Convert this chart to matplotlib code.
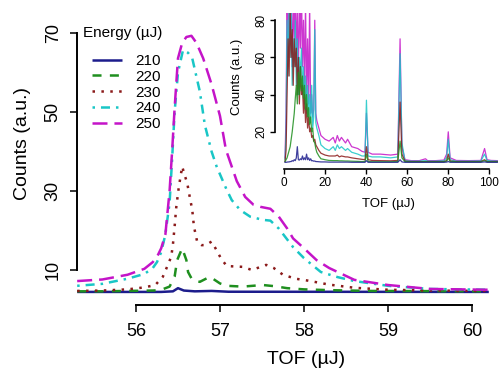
import matplotlib
matplotlib.use("Agg")
import matplotlib.pyplot as plt

plt.rcParams["font.family"] = ["Liberation Sans", "DejaVu Sans"]
plt.rcParams["lines.scale_dashes"] = False

# main panel: zoom on the peak near 56.6
e210_tof = [55.30, 56.30, 56.44, 56.50, 56.57, 56.70, 56.90, 57.10, 60.20]
e210_counts = [4.45, 4.45, 4.6, 5.4, 4.8, 4.6, 4.7, 4.5, 4.45]

e220_tof = [55.30, 55.60, 55.90, 56.20, 56.29, 56.40, 56.46, 56.49, 56.55, 56.60,
            56.62, 56.67, 56.76, 56.88, 57.00, 57.08, 57.27, 57.51, 57.65, 57.80,
            58.00, 58.30, 58.80, 60.20]
e220_counts = [4.6, 4.6, 4.7, 4.8, 4.9, 5.8, 8.3, 12.5, 15.5, 12.5,
               9.5, 7.5, 7.0, 8.3, 6.6, 6.0, 5.8, 6.2, 5.9, 5.4,
               5.1, 4.9, 4.7, 4.6]

e230_tof = [55.30, 55.60, 55.90, 56.10, 56.23, 56.32, 56.38, 56.42, 56.44, 56.46,
            56.48, 56.51, 56.55, 56.58, 56.61, 56.64, 56.67, 56.69, 56.73, 56.78,
            56.83, 56.90, 56.96, 57.01, 57.08, 57.27, 57.38, 57.55, 57.64, 57.75,
            57.90, 58.05, 58.30, 58.60, 59.00, 59.50, 60.20]
e230_counts = [4.7, 4.8, 5.1, 5.6, 6.2, 8.3, 11.3, 13.4, 16.5, 21,
               26, 31, 36.2, 34, 32, 28.5, 25.2, 21, 17, 16.3,
               16.3, 17.2, 15, 13, 11, 10.8, 10, 11.3, 10.5, 8.8,
               7.8, 7.3, 6.3, 5.5, 5.0, 4.8, 4.7]

e240_tof = [55.30, 55.60, 55.90, 56.10, 56.20, 56.25, 56.30, 56.35, 56.40, 56.43,
            56.46, 56.50, 56.56, 56.62, 56.67, 56.76, 56.82, 56.90, 56.96, 57.08,
            57.14, 57.24, 57.36, 57.51, 57.60, 57.70, 57.87, 58.00, 58.20, 58.40,
            58.60, 59.00, 59.50, 60.20]
e240_counts = [6.0, 6.5, 7.8, 9.0, 10.5, 12.0, 14.5, 19.0, 27.0, 38.0,
               50.0, 60.0, 65.7, 65.0, 63.6, 55.2, 46.7, 40.0, 36.2, 30.3,
               27.7, 25.2, 23.5, 22.7, 22.5, 20.5, 15.8, 13.0, 9.5, 8.2,
               7.2, 6.0, 5.2, 5.0]

e250_tof = [55.30, 55.60, 55.90, 56.10, 56.20, 56.25, 56.30, 56.35, 56.40, 56.43,
            56.46, 56.50, 56.55, 56.60, 56.66, 56.72, 56.80, 56.90, 57.00, 57.07,
            57.20, 57.30, 57.40, 57.48, 57.60, 57.70, 57.80, 57.87, 58.00, 58.15,
            58.30, 58.60, 59.00, 59.50, 60.20]
e250_counts = [7.2, 7.6, 8.8, 10.3, 12.0, 13.3, 15.5, 19.0, 30.0, 40.0,
               51.0, 63.6, 67.5, 69.0, 69.3, 67.5, 63.6, 57.0, 49.0, 40.5,
               32.5, 28.5, 26.5, 26.0, 25.5, 23.5, 20.5, 18.0, 15.5, 12.5,
               10.5, 7.5, 6.2, 5.2, 5.0]

energies = ["210", "220", "230", "240", "250"]
main_x_ticks = [56, 57, 58, 59, 60]
main_y_ticks = [10, 30, 50, 70]

# inset: full spectrum
inset_tof = [0.5, 1, 1.5, 2, 2.5, 3, 3.5, 4,
             4.5, 5, 5.5, 6, 6.5, 7, 7.5, 8,
             8.5, 9, 9.5, 10, 10.5, 11, 11.5, 12,
             12.5, 13, 13.5, 14, 14.5, 15, 15.5, 16,
             17, 18, 20, 22, 24, 25, 26, 27,
             28, 30, 31, 33, 36, 38, 39.5, 40.2,
             41, 43, 47, 52, 55.5, 56.6, 57.5, 59,
             62, 66, 69, 70, 74, 78, 79.3, 80.1,
             81, 84, 90, 96, 97.8, 99, 101, 104]
i250 = [6, 30, 95, 60, 100, 75, 95, 55,
        90, 70, 100, 60, 85, 50, 95, 65,
        100, 55, 80, 45, 90, 40, 70, 35,
        90, 30, 40, 28, 32, 80, 30, 26,
        22, 18, 16, 15, 17, 14, 18, 15,
        17, 14, 16, 12, 11, 9.5, 9, 30,
        9, 8, 8, 7.5, 8, 70, 12, 5,
        4.5, 4.5, 5.5, 4.5, 4.5, 4.8, 8, 20,
        6, 4.6, 4.5, 4.6, 11, 5, 4.6, 4.5]
i240 = [5, 20, 80, 50, 90, 60, 85, 45,
        70, 55, 80, 45, 70, 40, 60, 50,
        65, 40, 55, 35, 50, 30, 45, 28,
        40, 25, 45, 22, 28, 75, 25, 22,
        18, 13, 11, 10, 12, 10, 13, 11,
        12, 10, 11, 9, 8, 7, 7, 37,
        7, 6.5, 6.5, 6, 6.5, 62, 14, 4.5,
        4.2, 4.2, 4.5, 4.2, 4.2, 4.4, 6, 16,
        5, 4.2, 4.2, 4.3, 8, 4.6, 4.3, 4.2]
i230 = [4, 10, 40, 70, 50, 85, 60, 75,
        45, 70, 55, 65, 40, 60, 35, 55,
        40, 45, 30, 40, 25, 35, 22, 28,
        20, 22, 17, 18, 15, 16, 13, 12,
        10, 8.5, 7.5, 7, 7, 7, 7.5, 6.5,
        7, 6.5, 6.5, 6, 5.5, 5.2, 5, 12,
        5, 4.6, 4.5, 4.4, 4.6, 36, 8, 4.2,
        4, 4, 4, 4, 4, 4, 4.5, 8,
        4.3, 4, 4, 4, 5, 4, 4, 4]
i220 = [4, 5, 6, 8, 10, 12, 16, 20,
        25, 30, 38, 45, 35, 52, 40, 55,
        42, 50, 38, 45, 32, 40, 28, 33,
        24, 28, 20, 22, 15, 14, 11, 9,
        7, 5.5, 5, 4.6, 4.5, 4.5, 4.5, 4.4,
        4.4, 4.3, 4.3, 4.2, 4.1, 4, 4, 8,
        4, 3.9, 3.9, 3.9, 4, 15, 6, 3.9,
        3.9, 3.9, 3.9, 3.9, 3.9, 3.9, 4.2, 6,
        4, 3.9, 3.9, 3.9, 4.5, 3.9, 3.9, 3.9]
i210 = [3.6, 3.6, 3.7, 3.8, 3.8, 4, 4, 4.5,
        4.2, 5, 4.5, 6, 12, 5, 4.8, 5.5,
        5, 7, 5, 6, 5, 8, 5, 6,
        4.6, 5.5, 4.4, 4.5, 4.2, 4.3, 4, 4,
        3.9, 3.8, 3.8, 3.7, 3.7, 3.7, 3.7, 3.7,
        3.7, 3.7, 3.7, 3.6, 3.6, 3.6, 3.6, 4.5,
        3.6, 3.6, 3.6, 3.6, 3.6, 5, 3.8, 3.6,
        3.6, 3.6, 3.6, 3.6, 3.6, 3.6, 3.7, 4,
        3.6, 3.6, 3.6, 3.6, 3.8, 3.6, 3.6, 3.6]
inset_x_ticks = [0, 20, 40, 60, 80, 100]
inset_y_ticks = [20, 40, 60, 80]

colors = ["#1c1c8c", "#1f8f1f", "#8b1a1a", "#19c6c6", "#c414c8"]
dashes = [None, (6.5, 6), (1.8, 4.6), (1.8, 4.3, 6.5, 4.3), (10.8, 5)]

W, H = 502, 372
fig = plt.figure(figsize=(W / 100, H / 100), dpi=100)

# main axes, pixel box: x 77..502, y 20..305
ax = fig.add_axes([77 / W, 1 - 305 / H, (502 - 77) / W, (305 - 20) / H])
main = [(e210_tof, e210_counts), (e220_tof, e220_counts), (e230_tof, e230_counts),
        (e240_tof, e240_counts), (e250_tof, e250_counts)]
for (x, y), c, d, lab in zip(main, colors, dashes, energies):
    line, = ax.plot(x, y, color=c, lw=1.8, label=lab, solid_capstyle="butt",
                    dash_capstyle="butt")
    if d is not None:
        line.set_dashes(d)

ax.set_xlim(55.298, 60.357)
ax.set_ylim(1.14, 73.3)
for s in ["top", "right"]:
    ax.spines[s].set_visible(False)
ax.spines["left"].set_bounds(10, 70)
ax.spines["bottom"].set_bounds(56, 60)
for s in ["left", "bottom"]:
    ax.spines[s].set_linewidth(1.4)
ax.set_xticks(main_x_ticks)
ax.set_yticks(main_y_ticks)
ax.tick_params(direction="out", length=5, width=1.1, labelsize=13)
ax.tick_params(axis="x", pad=8)
ax.tick_params(axis="y", pad=6)
for t in ax.get_yticklabels():
    t.set_rotation(90)
    t.set_va("center")
    t.set_ha("right")

leg = ax.legend(loc="upper left", bbox_to_anchor=(92 / W, 1 - 54 / H),
                bbox_transform=fig.transFigure, frameon=False, fontsize=11,
                handlelength=1.96, handletextpad=0.85, labelspacing=0.12,
                borderpad=0, borderaxespad=0)
fig.text(83 / W, 1 - 33 / H, "Energy (µJ)", ha="left", va="center", fontsize=11)
fig.text(23 / W, 1 - 144 / H, "Counts (a.u.)", rotation=90, ha="center",
         va="center", fontsize=14)
fig.text(306 / W, 1 - 360 / H, "TOF (µJ)", ha="center", va="center", fontsize=14)

# inset, pixel box: x 275..502, y 13..169
ins = fig.add_axes([275 / W, 1 - 169 / H, (502 - 275) / W, (169 - 13) / H])
ins.patch.set_alpha(0)
inset = [i250, i240, i230, i220, i210]
for y, c in zip(inset, colors[::-1]):
    ins.plot(inset_tof, y, color=c, lw=0.9, alpha=0.85)
ins.set_xlim(-4.39, 106.3)
ins.set_ylim(0, 83.9)
for s in ["top", "right"]:
    ins.spines[s].set_visible(False)
ins.spines["left"].set_bounds(20, 80)
ins.spines["bottom"].set_bounds(0, 100)
for s in ["left", "bottom"]:
    ins.spines[s].set_linewidth(1.2)
ins.set_xticks(inset_x_ticks)
ins.set_yticks(inset_y_ticks)
ins.tick_params(direction="out", length=3.6, width=1.0, labelsize=8.5, pad=2)
for t in ins.get_yticklabels():
    t.set_rotation(90)
    t.set_va("center")
    t.set_ha("right")
fig.text(237 / W, 1 - 77 / H, "Counts (a.u.)", rotation=90, ha="center",
         va="center", fontsize=9.5)
fig.text(388 / W, 1 - 204 / H, "TOF (µJ)", ha="center", va="center", fontsize=9.5)

fig.savefig("out.png", dpi=100)
